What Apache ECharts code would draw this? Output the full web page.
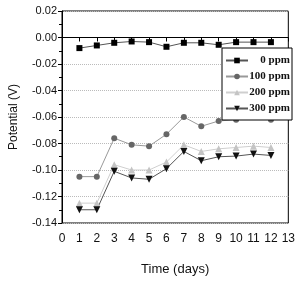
<!DOCTYPE html>
<html><head><meta charset="utf-8">
<script src="https://cdn.jsdelivr.net/npm/echarts@6/dist/echarts.min.js"></script>
<style>html,body{margin:0;padding:0;background:#fff}#c{width:298px;height:281px}</style>
</head><body><div id="c"></div>
<script>
var days = [1,2,3,4,5,6,7,8,9,10,11,12];
var seriesNames = ['0 ppm','100 ppm','200 ppm','300 ppm'];
var ppm0   = [-0.008,-0.006,-0.004,-0.003,-0.0035,-0.007,-0.004,-0.004,-0.0055,-0.0035,-0.0035,-0.0035];
var ppm100 = [-0.105,-0.105,-0.076,-0.081,-0.082,-0.073,-0.060,-0.067,-0.063,-0.062,-0.060,-0.062];
var ppm200 = [-0.125,-0.125,-0.096,-0.100,-0.100,-0.094,-0.081,-0.086,-0.084,-0.083,-0.082,-0.083];
var ppm300 = [-0.130,-0.130,-0.101,-0.106,-0.107,-0.099,-0.086,-0.093,-0.090,-0.0895,-0.088,-0.089];
var xTicks = [0,1,2,3,4,5,6,7,8,9,10,11,12,13];
var yTicks = ['0.02','0.00','-0.02','-0.04','-0.06','-0.08','-0.10','-0.12','-0.14'];

function pts(arr){ return days.map(function(d,i){ return [d, arr[i]]; }); }

var chart = echarts.init(document.getElementById('c'), null, {renderer:'canvas'});
var sans = 'Liberation Sans, Arial, sans-serif';
var serif = 'Liberation Serif, Times New Roman, serif';
function mk(name, data, symbol, size, color, lineColor, rot){
  return {
    name: name, type:'line', data: pts(data), symbol: symbol, symbolSize: size,
    symbolRotate: rot || 0,
    itemStyle:{color: color},
    lineStyle:{color: lineColor, width: 1},
    animation:false
  };
}
chart.setOption({
  animation:false,
  grid:{left:53, right:6, top:11, bottom:48, show:true, borderColor:'#000', borderWidth:1, backgroundColor:'transparent'},
  xAxis:{
    type:'value', min:0, max:13, interval:1,
    name:'Time (days)', nameLocation:'middle', nameGap:40,
    nameTextStyle:{fontFamily:sans, fontSize:13, color:'#111'},
    axisLine:{lineStyle:{color:'#000', width:1}},
    axisTick:{show:true, length:4, lineStyle:{color:'#000'}},
    axisLabel:{fontFamily:sans, fontSize:12, color:'#111', margin:10,
      formatter:function(v){ return xTicks.indexOf(v) >= 0 ? String(v) : ''; }},
    splitLine:{show:false}
  },
  yAxis:{
    type:'value', min:-0.14, max:0.02, interval:0.02,
    name:'Potential (V)', nameLocation:'middle', nameGap:42,
    nameTextStyle:{fontFamily:sans, fontSize:12, color:'#111'},
    axisLine:{show:true, lineStyle:{color:'#000', width:1}},
    axisTick:{show:true, length:4, lineStyle:{color:'#000'}},
    minorTick:{show:true, splitNumber:2, length:3, lineStyle:{color:'#000'}},
    axisLabel:{fontFamily:sans, fontSize:11, color:'#111', margin:5,
      formatter:function(v){ var idx = Math.round((0.02 - v)/0.02); return yTicks[idx] || ''; }},
    splitLine:{show:true, lineStyle:{color:'#bbb', type:'dotted', width:1}}
  },
  legend:{
    data: seriesNames, orient:'vertical', left:222, top:48,
    itemWidth:22, itemHeight:7, itemGap:5,
    padding:[7,2,6,3],
    backgroundColor:'#fff', borderColor:'#000', borderWidth:1, borderRadius:0,
    formatter:function(n){ return '{a|' + n + '}'; },
    textStyle:{
      rich:{a:{fontFamily:serif, fontSize:11, fontWeight:'bold', color:'#111', width:37, align:'right', lineHeight:10}}
    }
  },
  series:[
    mk(seriesNames[0], ppm0, 'rect', 6, '#000', '#555'),
    mk(seriesNames[1], ppm100, 'circle', 6, '#666', '#999'),
    mk(seriesNames[2], ppm200, 'triangle', 7, '#c4c4c4', '#cfcfcf'),
    mk(seriesNames[3], ppm300, 'triangle', 7, '#111', '#555', 180)
  ]
});
</script></body></html>
